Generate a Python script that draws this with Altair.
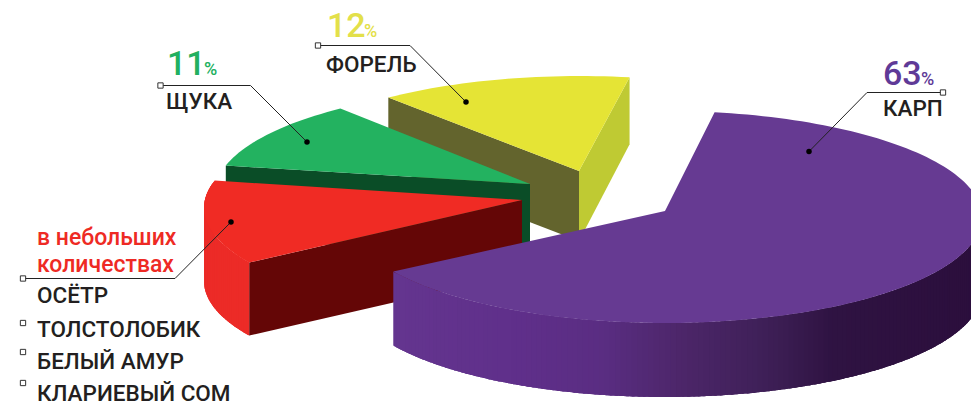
import math
import altair as alt
import pandas as pd

# ---- values
names = ["ФОРЕЛЬ", "ЩУКА", "в небольших количествах", "КАРП"]
shares = [12, 11, 14, 63]
top_colors = ["#e5e435", "#23b260", "#f02b24", "#663a92"]
small_species = ["ОСЁТР", "ТОЛСТОЛОБИК", "БЕЛЫЙ АМУР", "КЛАРИЕВЫЙ СОМ"]
small_caption = ["в небольших", "количествах"]
percent_labels = ["12", "11", "63"]
percent_colors = ["#e3e04a", "#22b060", "#5f3a97"]
wall_stops = ["#64358f", "#5f2f8a", "#5a2d82", "#4c2669", "#3f2058", "#2f1342", "#2b0e3c"]

# ---- layout of the pseudo-3D pie (picture pixels)
W, H, M = 971, 406, 8
RX, RY = 317, 106
START = 81.0
NUDGE = [3.0, 1.2, -3.2, 0.0]  # perspective drift of the boundaries between slices
CENTRES = [(580, 182), (532, 193), (521, 208), (665, 217)]
APEXES = [(579, 171), (530, 184), (522, 200), (665, 211)]
DEPTHS = [70, 73, 73, 74]
STOP_X = [393, 520, 600, 680, 760, 830, 985]


def rim(c, deg, drop=0):
    t = math.radians(deg)
    return [c[0] + RX * math.cos(t), c[1] - RY * math.sin(t) + drop]


def arc(c, a0, a1, drop=0, step=1.5):
    n = max(2, int(abs(a1 - a0) / step))
    return [rim(c, a0 + (a1 - a0) * i / n, drop) for i in range(n + 1)]


def poly(points, color):
    ring = [list(p) for p in points]
    ring.append(ring[0])
    return {"type": "Feature", "geometry": {"type": "Polygon", "coordinates": [ring]},
            "properties": {"color": color}}


def wall_color(x):
    def rgb(h):
        return [int(h[i:i + 2], 16) for i in (1, 3, 5)]
    x = min(max(x, STOP_X[0]), STOP_X[-1])
    for i in range(len(STOP_X) - 1):
        if x <= STOP_X[i + 1]:
            f = (x - STOP_X[i]) / (STOP_X[i + 1] - STOP_X[i])
            a, b = rgb(wall_stops[i]), rgb(wall_stops[i + 1])
            return "#%02x%02x%02x" % tuple(round(a[k] + (b[k] - a[k]) * f) for k in range(3))
    return wall_stops[-1]


def outer_wall(c, a0, a1, d, color_of):
    # overlapping vertical strips, so no seam shows between neighbours
    out = []
    deg = a0
    while deg < a1:
        nxt = min(deg + 1, a1)
        over = min(nxt + 1.5, a1)
        strip = arc(c, deg, over, 0, 0.5) + arc(c, over, deg, d, 0.5)
        out.append(poly(strip, color_of(rim(c, deg)[0])))
        deg = nxt
    return out


# slice boundaries from the shares
bounds = [START]
for i in range(len(shares)):
    bounds.append(START + sum(shares[:i + 1]) * 3.6 + NUDGE[i])

features = []
# yellow
c, ap, d = CENTRES[0], APEXES[0], DEPTHS[0]
a0, a1 = bounds[0], bounds[1]
p0, p1 = rim(c, a0), rim(c, a1)
features.append(poly([p1, ap, [ap[0], ap[1] + d], [p1[0], p1[1] + d]], "#63642d"))
features.append(poly([ap, p0, [p0[0], p0[1] + d - 3], [ap[0], ap[1] + d]], "#bfca33"))
features.append(poly([ap] + arc(c, a0, a1), top_colors[0]))
# green
c, ap, d = CENTRES[1], APEXES[1], DEPTHS[1]
a0, a1 = bounds[1], bounds[2]
p1 = rim(c, a1)
features.append(poly([p1, ap, [ap[0], ap[1] + d], [p1[0], p1[1] + d]], "#0a4d27"))
features.append(poly([ap] + arc(c, a0, a1), top_colors[1]))
# red
c, ap, d = CENTRES[2], APEXES[2], DEPTHS[2]
a0, a1 = bounds[2], bounds[3]
p1 = rim(c, a1)
features += outer_wall(c, a0, a1, d, lambda x: "#ec2b27")
features.append(poly([p1, ap, [ap[0], ap[1] + d], [p1[0], p1[1] + d]], "#640606"))
features.append(poly([ap] + arc(c, a0, a1), top_colors[2]))
# purple
c, ap, d = CENTRES[3], APEXES[3], DEPTHS[3]
a0, a1 = bounds[3], bounds[4]
features += outer_wall(c, a0, 360, d, wall_color)
features.append(poly([ap] + arc(c, a0, a1), top_colors[3]))

xs = alt.Scale(domain=[M, W], range=[0, W - M])
ys = alt.Scale(domain=[M, H], range=[0, H - M])
X = lambda f="x": alt.X(f + ":Q", scale=xs, axis=None)
Y = lambda f="y": alt.Y(f + ":Q", scale=ys, axis=None)

pie = alt.Chart(alt.Data(values=features)).mark_geoshape(strokeWidth=0, clip=True).encode(
    fill=alt.Fill("properties.color:N", scale=None, legend=None),
).project(type="identity", scale=1, translate=[-M, -M])

leaders = pd.DataFrame([
    {"g": g, "o": o, "x": x, "y": y}
    for g, path in enumerate([
        [(318, 45.5), (410, 45.5), (466, 102)],
        [(160.5, 85.5), (250.5, 85.5), (307, 142)],
        [(23, 278.5), (175, 278.5), (231, 222)],
        [(943, 92.5), (867, 92.5), (809, 151.5)],
    ])
    for o, (x, y) in enumerate(path)
])
lines = alt.Chart(leaders).mark_line(color="#222222", strokeWidth=1).encode(
    x=X(), y=Y(), detail="g:N", order="o:Q")
dots = alt.Chart(leaders[leaders.o == 2]).mark_point(
    filled=True, color="#000000", size=30, opacity=1).encode(x=X(), y=Y())

squares_df = pd.DataFrame({"x": [318, 160.5, 23, 943, 23, 23, 23],
                           "y": [45.5, 85.5, 278.5, 92.5, 323, 352, 383]})
squares = alt.Chart(squares_df).mark_square(
    fill="#ffffff", stroke="#333333", strokeWidth=1, size=28, opacity=1).encode(x=X(), y=Y())


def text_layer(rows, size, weight, font="Roboto"):
    df = pd.DataFrame(rows, columns=["t", "x", "y", "c"])
    return alt.Chart(df).mark_text(
        align="left", baseline="alphabetic", font=font, fontSize=size, fontWeight=weight
    ).encode(x=X(), y=Y(), text="t:N", color=alt.Color("c:N", scale=None, legend=None))


DARK = "#231f20"
labels = text_layer(
    [[small_species[0], 37, 303, DARK], [small_species[1], 37, 337, DARK],
     [small_species[2], 37, 369, DARK], [small_species[3], 37, 401, DARK],
     [names[1], 166, 109, DARK], [names[0], 326, 72, DARK], [names[3], 883, 116, DARK]],
    22.5, 500)
caption = text_layer(
    [[small_caption[0], 37, 245, "#ee2a24"], [small_caption[1], 37, 272, "#ee2a24"]], 23, 500)
big = text_layer(
    [[percent_labels[0], 327, 37, percent_colors[0]], [percent_labels[1], 167, 75, percent_colors[1]],
     [percent_labels[2], 883, 85, percent_colors[2]]], 34, 500)
pct = text_layer(
    [["%", 364, 37, percent_colors[0]], ["%", 204, 75, percent_colors[1]],
     ["%", 921, 85, percent_colors[2]]], 18, 500)

chart = alt.layer(pie, lines, dots, squares, labels, caption, big, pct).properties(
    width=W - M, height=H - M, padding=0, background="#ffffff",
    autosize=alt.AutoSizeParams(type="none"),
).configure_view(stroke=None)

chart.save("out.html", embed_options={"renderer": "svg", "actions": False})
